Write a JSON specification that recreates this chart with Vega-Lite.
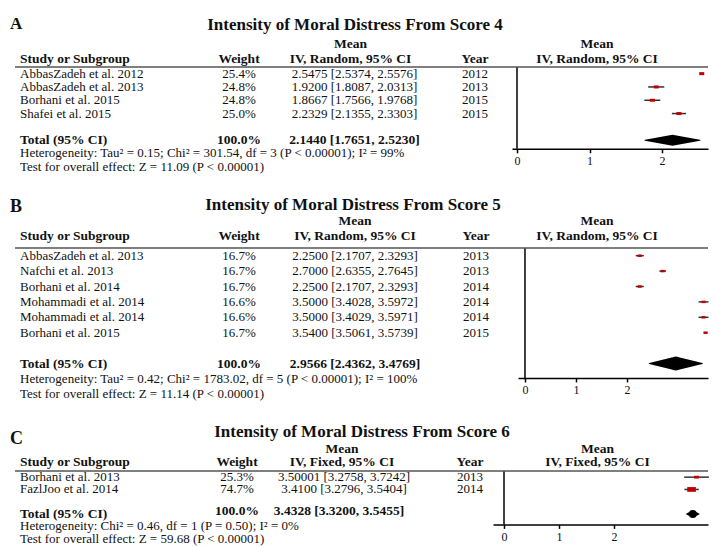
{
"$schema":"https://vega.github.io/schema/vega-lite/v6.json",
"padding":{"left":10,"top":14,"right":0,"bottom":0},
"config":{"view":{"stroke":null},"font":"Liberation Serif","text":{"font":"Liberation Serif","fontSize":13,"color":"#111"}},
"datasets":{
"A":[
{"id":"a1","kind":"study","study":"AbbasZadeh et al. 2012","weight":0.254,"ci":"2.5475 [2.5374, 2.5576]","year":"2012","mean":2.5475,"lo":2.5374,"hi":2.5576},
{"id":"a2","kind":"study","study":"AbbasZadeh et al. 2013","weight":0.248,"ci":"1.9200 [1.8087, 2.0313]","year":"2013","mean":1.92,"lo":1.8087,"hi":2.0313},
{"id":"a3","kind":"study","study":"Borhani et al. 2015","weight":0.248,"ci":"1.8667 [1.7566, 1.9768]","year":"2015","mean":1.8667,"lo":1.7566,"hi":1.9768},
{"id":"a4","kind":"study","study":"Shafei et al. 2015","weight":0.25,"ci":"2.2329 [2.1355, 2.3303]","year":"2015","mean":2.2329,"lo":2.1355,"hi":2.3303},
{"id":"total","kind":"total","study":"Total (95% CI)","weight":1,"ci":"2.1440 [1.7651, 2.5230]","mean":2.144,"lo":1.7651,"hi":2.523},
{"id":"het","kind":"note","study":"Heterogeneity: Tau² = 0.15; Chi² = 301.54, df = 3 (P < 0.00001); I² = 99%"},
{"id":"test","kind":"note","study":"Test for overall effect: Z = 11.09 (P < 0.00001)"}
],
"B":[
{"id":"b1","kind":"study","study":"AbbasZadeh et al. 2013","weight":0.167,"ci":"2.2500 [2.1707, 2.3293]","year":"2013","mean":2.25,"lo":2.1707,"hi":2.3293},
{"id":"b2","kind":"study","study":"Nafchi et al. 2013","weight":0.167,"ci":"2.7000 [2.6355, 2.7645]","year":"2013","mean":2.7,"lo":2.6355,"hi":2.7645},
{"id":"b3","kind":"study","study":"Borhani et al. 2014","weight":0.167,"ci":"2.2500 [2.1707, 2.3293]","year":"2014","mean":2.25,"lo":2.1707,"hi":2.3293},
{"id":"b4","kind":"study","study":"Mohammadi et al. 2014","weight":0.166,"ci":"3.5000 [3.4028, 3.5972]","year":"2014","mean":3.5,"lo":3.4028,"hi":3.5972},
{"id":"b5","kind":"study","study":"Mohammadi et al. 2014","weight":0.166,"ci":"3.5000 [3.4029, 3.5971]","year":"2014","mean":3.5,"lo":3.4029,"hi":3.5971},
{"id":"b6","kind":"study","study":"Borhani et al. 2015","weight":0.167,"ci":"3.5400 [3.5061, 3.5739]","year":"2015","mean":3.54,"lo":3.5061,"hi":3.5739},
{"id":"total","kind":"total","study":"Total (95% CI)","weight":1,"ci":"2.9566 [2.4362, 3.4769]","mean":2.9566,"lo":2.4362,"hi":3.4769},
{"id":"het","kind":"note","study":"Heterogeneity: Tau² = 0.42; Chi² = 1783.02, df = 5 (P < 0.00001); I² = 100%"},
{"id":"test","kind":"note","study":"Test for overall effect: Z = 11.14 (P < 0.00001)"}
],
"C":[
{"id":"c1","kind":"study","study":"Borhani et al. 2013","weight":0.253,"ci":"3.50001 [3.2758, 3.7242]","year":"2013","mean":3.50001,"lo":3.2758,"hi":3.7242},
{"id":"c2","kind":"study","study":"FazlJoo et al. 2014","weight":0.747,"ci":"3.4100 [3.2796, 3.5404]","year":"2014","mean":3.41,"lo":3.2796,"hi":3.5404},
{"id":"total","kind":"total","study":"Total (95% CI)","weight":1,"ci":"3.4328 [3.3200, 3.5455]","mean":3.4328,"lo":3.32,"hi":3.5455},
{"id":"het","kind":"note","study":"Heterogeneity: Chi² = 0.46, df = 1 (P = 0.50); I² = 0%"},
{"id":"test","kind":"note","study":"Test for overall effect: Z = 59.68 (P < 0.00001)"}
]
},
"spacing":21,
"vconcat":[
{"spacing":0,"bounds":"flush","hconcat":[
 {"width":188,"height":{"step":13.3},"data":{"name":"A"},"layer":[
  {"transform":[{"filter":"datum.kind !== 'total'"}],"mark":{"type":"text","align":"left","baseline":"middle"},"encoding":{"x":{"value":5},"y":{"field":"id","type":"nominal","axis":null,"scale":{"type":"band","domain":["a1","a2","a3","a4","gap","total","het","test"],"paddingInner":0,"paddingOuter":0}},"text":{"field":"study"}}},
  {"transform":[{"filter":"datum.kind === 'total'"}],"mark":{"type":"text","align":"left","baseline":"middle","fontWeight":"bold","fontSize":13.5},"encoding":{"x":{"value":5},"y":{"field":"id","type":"nominal","axis":null,"scale":{"type":"band","domain":["a1","a2","a3","a4","gap","total","het","test"],"paddingInner":0,"paddingOuter":0}},"text":{"field":"study"}}},
  {"data":{"values":[{}]},"mark":{"type":"text","text":"Study or Subgroup","align":"left","baseline":"bottom","fontWeight":"bold","fontSize":13.5,"dy":-8},"encoding":{"x":{"value":5},"y":{"datum":"a1","type":"nominal","axis":null,"scale":{"type":"band","domain":["a1","a2","a3","a4","gap","total","het","test"],"paddingInner":0,"paddingOuter":0}}}},
  {"data":{"values":[{}]},"mark":{"type":"text","text":"A","align":"left","baseline":"alphabetic","fontWeight":"bold","fontSize":17,"dy":-45},"encoding":{"x":{"value":-5},"y":{"datum":"a1","type":"nominal","axis":null,"scale":{"type":"band","domain":["a1","a2","a3","a4","gap","total","het","test"],"paddingInner":0,"paddingOuter":0}}}},
  {"data":{"values":[{}]},"mark":{"type":"rule","color":"#555","strokeWidth":1.5},"encoding":{"y":{"datum":"a1","type":"nominal","bandPosition":0,"axis":null,"scale":{"type":"band","domain":["a1","a2","a3","a4","gap","total","het","test"],"paddingInner":0,"paddingOuter":0}}}}
 ]},
 {"width":72,"height":{"step":13.3},"data":{"name":"A"},"layer":[
  {"transform":[{"filter":"datum.kind === 'study'"}],"mark":{"type":"text","align":"center","baseline":"middle"},"encoding":{"y":{"field":"id","type":"nominal","axis":null,"scale":{"type":"band","domain":["a1","a2","a3","a4","gap","total","het","test"],"paddingInner":0,"paddingOuter":0}},"text":{"field":"weight","type":"quantitative","format":".1%"}}},
  {"transform":[{"filter":"datum.kind === 'total'"}],"mark":{"type":"text","align":"center","baseline":"middle","fontWeight":"bold","fontSize":13.5},"encoding":{"y":{"field":"id","type":"nominal","axis":null,"scale":{"type":"band","domain":["a1","a2","a3","a4","gap","total","het","test"],"paddingInner":0,"paddingOuter":0}},"text":{"field":"weight","type":"quantitative","format":".1%"}}},
  {"data":{"values":[{}]},"mark":{"type":"text","text":"Weight","align":"center","baseline":"bottom","fontWeight":"bold","fontSize":13.5,"dy":-8},"encoding":{"y":{"datum":"a1","type":"nominal","axis":null,"scale":{"type":"band","domain":["a1","a2","a3","a4","gap","total","het","test"],"paddingInner":0,"paddingOuter":0}}}},
  {"data":{"values":[{}]},"mark":{"type":"rule","color":"#555","strokeWidth":1.5},"encoding":{"y":{"datum":"a1","type":"nominal","bandPosition":0,"axis":null,"scale":{"type":"band","domain":["a1","a2","a3","a4","gap","total","het","test"],"paddingInner":0,"paddingOuter":0}}}}
 ]},
 {"width":163,"height":{"step":13.3},"data":{"name":"A"},"layer":[
  {"transform":[{"filter":"datum.kind === 'study'"}],"mark":{"type":"text","align":"center","baseline":"middle","dx":-2},"encoding":{"y":{"field":"id","type":"nominal","axis":null,"scale":{"type":"band","domain":["a1","a2","a3","a4","gap","total","het","test"],"paddingInner":0,"paddingOuter":0}},"text":{"field":"ci"}}},
  {"transform":[{"filter":"datum.kind === 'total'"}],"mark":{"type":"text","align":"center","baseline":"middle","dx":-2,"fontWeight":"bold","fontSize":13.5},"encoding":{"y":{"field":"id","type":"nominal","axis":null,"scale":{"type":"band","domain":["a1","a2","a3","a4","gap","total","het","test"],"paddingInner":0,"paddingOuter":0}},"text":{"field":"ci"}}},
  {"data":{"values":[{}]},"mark":{"type":"text","text":"Mean\nIV, Random, 95% CI","lineBreak":"\n","lineHeight":14.5,"align":"center","baseline":"bottom","fontWeight":"bold","fontSize":13.5,"dx":-6,"dy":-22.5},"encoding":{"y":{"datum":"a1","type":"nominal","axis":null,"scale":{"type":"band","domain":["a1","a2","a3","a4","gap","total","het","test"],"paddingInner":0,"paddingOuter":0}}}},
  {"data":{"values":[{}]},"mark":{"type":"text","text":"Intensity of Moral Distress From Score 4","align":"center","baseline":"alphabetic","fontWeight":"bold","fontSize":17,"dx":-1.5,"dy":-44},"encoding":{"y":{"datum":"a1","type":"nominal","axis":null,"scale":{"type":"band","domain":["a1","a2","a3","a4","gap","total","het","test"],"paddingInner":0,"paddingOuter":0}}}},
  {"data":{"values":[{}]},"mark":{"type":"rule","color":"#555","strokeWidth":1.5},"encoding":{"y":{"datum":"a1","type":"nominal","bandPosition":0,"axis":null,"scale":{"type":"band","domain":["a1","a2","a3","a4","gap","total","het","test"],"paddingInner":0,"paddingOuter":0}}}}
 ]},
 {"width":74,"height":{"step":13.3},"data":{"name":"A"},"layer":[
  {"transform":[{"filter":"datum.kind === 'study'"}],"mark":{"type":"text","align":"center","baseline":"middle"},"encoding":{"y":{"field":"id","type":"nominal","axis":null,"scale":{"type":"band","domain":["a1","a2","a3","a4","gap","total","het","test"],"paddingInner":0,"paddingOuter":0}},"text":{"field":"year"}}},
  {"data":{"values":[{}]},"mark":{"type":"text","text":"Year","align":"center","baseline":"bottom","fontWeight":"bold","fontSize":13.5,"dy":-8},"encoding":{"y":{"datum":"a1","type":"nominal","axis":null,"scale":{"type":"band","domain":["a1","a2","a3","a4","gap","total","het","test"],"paddingInner":0,"paddingOuter":0}}}},
  {"data":{"values":[{}]},"mark":{"type":"rule","color":"#555","strokeWidth":1.5},"encoding":{"y":{"datum":"a1","type":"nominal","bandPosition":0,"axis":null,"scale":{"type":"band","domain":["a1","a2","a3","a4","gap","total","het","test"],"paddingInner":0,"paddingOuter":0}}}}
 ]},
 {"width":196,"height":{"step":13.3},"data":{"name":"A"},"layer":[
  {"data":{"values":[{}]},"mark":{"type":"rule","color":"#000","strokeWidth":1.5},"encoding":{"x":{"datum":0,"type":"quantitative","scale":{"domain":[-0.069,2.634],"nice":false,"zero":false},"axis":{"values":[0,1,2],"title":null,"grid":false,"format":"d","labelFlush":false,"domainColor":"#000","domainWidth":1.5,"tickColor":"#000","tickWidth":1.5,"tickSize":4,"labelPadding":3,"labelFontSize":12,"labelFont":"Liberation Serif","labelColor":"#111"}}}},
  {"data":{"values":[{}]},"mark":{"type":"rule","color":"#555","strokeWidth":1.5},"encoding":{"y":{"datum":"a1","type":"nominal","bandPosition":0,"axis":null,"scale":{"type":"band","domain":["a1","a2","a3","a4","gap","total"],"paddingInner":0,"paddingOuter":0.075,"align":0}}}},
  {"transform":[{"filter":"datum.kind === 'study'"}],"mark":{"type":"rule","color":"#333","strokeWidth":1.5},"encoding":{"x":{"field":"lo","type":"quantitative","scale":{"domain":[-0.069,2.634],"nice":false,"zero":false},"axis":{"values":[0,1,2],"title":null,"grid":false,"format":"d","labelFlush":false,"domainColor":"#000","domainWidth":1.5,"tickColor":"#000","tickWidth":1.5,"tickSize":4,"labelPadding":3,"labelFontSize":12,"labelFont":"Liberation Serif","labelColor":"#111"}},"x2":{"field":"hi"},"y":{"field":"id","type":"nominal","axis":null,"scale":{"type":"band","domain":["a1","a2","a3","a4","gap","total"],"paddingInner":0,"paddingOuter":0.075,"align":0}}}},
  {"transform":[{"filter":"datum.kind === 'study'"}],"mark":{"type":"point","filled":true,"opacity":1,"shape":"M-1,-0.6H1V0.6H-1Z","color":"#c00000","strokeWidth":0},"encoding":{"x":{"field":"mean","type":"quantitative","scale":{"domain":[-0.069,2.634],"nice":false,"zero":false},"axis":{"values":[0,1,2],"title":null,"grid":false,"format":"d","labelFlush":false,"domainColor":"#000","domainWidth":1.5,"tickColor":"#000","tickWidth":1.5,"tickSize":4,"labelPadding":3,"labelFontSize":12,"labelFont":"Liberation Serif","labelColor":"#111"}},"y":{"field":"id","type":"nominal","axis":null,"scale":{"type":"band","domain":["a1","a2","a3","a4","gap","total"],"paddingInner":0,"paddingOuter":0.075,"align":0}},"size":{"field":"weight","type":"quantitative","scale":{"domain":[0,0.254],"range":[0,75]},"legend":null}}},
  {"transform":[{"filter":"datum.kind === 'total'"},{"fold":["lo","mean","hi"],"as":["key","val"]}],"mark":{"type":"trail","color":"#000"},"encoding":{"x":{"field":"val","type":"quantitative","scale":{"domain":[-0.069,2.634],"nice":false,"zero":false},"axis":{"values":[0,1,2],"title":null,"grid":false,"format":"d","labelFlush":false,"domainColor":"#000","domainWidth":1.5,"tickColor":"#000","tickWidth":1.5,"tickSize":4,"labelPadding":3,"labelFontSize":12,"labelFont":"Liberation Serif","labelColor":"#111"}},"y":{"field":"id","type":"nominal","axis":null,"scale":{"type":"band","domain":["a1","a2","a3","a4","gap","total"],"paddingInner":0,"paddingOuter":0.075,"align":0}},"size":{"condition":{"test":"datum.key === 'mean'","value":11},"value":0}}},
  {"data":{"values":[{}]},"mark":{"type":"text","text":"Mean\nIV, Random, 95% CI","lineBreak":"\n","lineHeight":14.5,"align":"center","baseline":"bottom","fontWeight":"bold","fontSize":13.5,"dx":-13,"dy":-22.5},"encoding":{"y":{"datum":"a1","type":"nominal","axis":null,"scale":{"type":"band","domain":["a1","a2","a3","a4","gap","total"],"paddingInner":0,"paddingOuter":0.075,"align":0}}}}
 ]}
]},
{"spacing":0,"bounds":"flush","hconcat":[
 {"width":187,"height":{"step":15.4},"data":{"name":"B"},"layer":[
  {"transform":[{"filter":"datum.kind !== 'total'"}],"mark":{"type":"text","align":"left","baseline":"middle"},"encoding":{"x":{"value":5},"y":{"field":"id","type":"nominal","axis":null,"scale":{"type":"band","domain":["b1","b2","b3","b4","b5","b6","gap","total","het","test"],"paddingInner":0,"paddingOuter":0}},"text":{"field":"study"}}},
  {"transform":[{"filter":"datum.kind === 'total'"}],"mark":{"type":"text","align":"left","baseline":"middle","fontWeight":"bold","fontSize":13.5},"encoding":{"x":{"value":5},"y":{"field":"id","type":"nominal","axis":null,"scale":{"type":"band","domain":["b1","b2","b3","b4","b5","b6","gap","total","het","test"],"paddingInner":0,"paddingOuter":0}},"text":{"field":"study"}}},
  {"data":{"values":[{}]},"mark":{"type":"text","text":"Study or Subgroup","align":"left","baseline":"bottom","fontWeight":"bold","fontSize":13.5,"dy":-13},"encoding":{"x":{"value":5},"y":{"datum":"b1","type":"nominal","axis":null,"scale":{"type":"band","domain":["b1","b2","b3","b4","b5","b6","gap","total","het","test"],"paddingInner":0,"paddingOuter":0}}}},
  {"data":{"values":[{}]},"mark":{"type":"text","text":"B","align":"left","baseline":"alphabetic","fontWeight":"bold","fontSize":18,"dy":-44},"encoding":{"x":{"value":-5},"y":{"datum":"b1","type":"nominal","axis":null,"scale":{"type":"band","domain":["b1","b2","b3","b4","b5","b6","gap","total","het","test"],"paddingInner":0,"paddingOuter":0}}}},
  {"data":{"values":[{}]},"mark":{"type":"rule","color":"#555","strokeWidth":1.5},"encoding":{"y":{"datum":"b1","type":"nominal","bandPosition":0,"axis":null,"scale":{"type":"band","domain":["b1","b2","b3","b4","b5","b6","gap","total","het","test"],"paddingInner":0,"paddingOuter":0}}}}
 ]},
 {"width":74,"height":{"step":15.4},"data":{"name":"B"},"layer":[
  {"transform":[{"filter":"datum.kind === 'study'"}],"mark":{"type":"text","align":"center","baseline":"middle"},"encoding":{"y":{"field":"id","type":"nominal","axis":null,"scale":{"type":"band","domain":["b1","b2","b3","b4","b5","b6","gap","total","het","test"],"paddingInner":0,"paddingOuter":0}},"text":{"field":"weight","type":"quantitative","format":".1%"}}},
  {"transform":[{"filter":"datum.kind === 'total'"}],"mark":{"type":"text","align":"center","baseline":"middle","fontWeight":"bold","fontSize":13.5},"encoding":{"y":{"field":"id","type":"nominal","axis":null,"scale":{"type":"band","domain":["b1","b2","b3","b4","b5","b6","gap","total","het","test"],"paddingInner":0,"paddingOuter":0}},"text":{"field":"weight","type":"quantitative","format":".1%"}}},
  {"data":{"values":[{}]},"mark":{"type":"text","text":"Weight","align":"center","baseline":"bottom","fontWeight":"bold","fontSize":13.5,"dy":-13},"encoding":{"y":{"datum":"b1","type":"nominal","axis":null,"scale":{"type":"band","domain":["b1","b2","b3","b4","b5","b6","gap","total","het","test"],"paddingInner":0,"paddingOuter":0}}}},
  {"data":{"values":[{}]},"mark":{"type":"rule","color":"#555","strokeWidth":1.5},"encoding":{"y":{"datum":"b1","type":"nominal","bandPosition":0,"axis":null,"scale":{"type":"band","domain":["b1","b2","b3","b4","b5","b6","gap","total","het","test"],"paddingInner":0,"paddingOuter":0}}}}
 ]},
 {"width":158,"height":{"step":15.4},"data":{"name":"B"},"layer":[
  {"transform":[{"filter":"datum.kind === 'study'"}],"mark":{"type":"text","align":"center","baseline":"middle"},"encoding":{"y":{"field":"id","type":"nominal","axis":null,"scale":{"type":"band","domain":["b1","b2","b3","b4","b5","b6","gap","total","het","test"],"paddingInner":0,"paddingOuter":0}},"text":{"field":"ci"}}},
  {"transform":[{"filter":"datum.kind === 'total'"}],"mark":{"type":"text","align":"center","baseline":"middle","fontWeight":"bold","fontSize":13.5},"encoding":{"y":{"field":"id","type":"nominal","axis":null,"scale":{"type":"band","domain":["b1","b2","b3","b4","b5","b6","gap","total","het","test"],"paddingInner":0,"paddingOuter":0}},"text":{"field":"ci"}}},
  {"data":{"values":[{}]},"mark":{"type":"text","text":"Mean\nIV, Random, 95% CI","lineBreak":"\n","lineHeight":14.5,"align":"center","baseline":"bottom","fontWeight":"bold","fontSize":13.5,"dy":-27.5},"encoding":{"y":{"datum":"b1","type":"nominal","axis":null,"scale":{"type":"band","domain":["b1","b2","b3","b4","b5","b6","gap","total","het","test"],"paddingInner":0,"paddingOuter":0}}}},
  {"data":{"values":[{}]},"mark":{"type":"text","text":"Intensity of Moral Distress From Score 5","align":"center","baseline":"alphabetic","fontWeight":"bold","fontSize":17,"dx":-2,"dy":-46},"encoding":{"y":{"datum":"b1","type":"nominal","axis":null,"scale":{"type":"band","domain":["b1","b2","b3","b4","b5","b6","gap","total","het","test"],"paddingInner":0,"paddingOuter":0}}}},
  {"data":{"values":[{}]},"mark":{"type":"rule","color":"#555","strokeWidth":1.5},"encoding":{"y":{"datum":"b1","type":"nominal","bandPosition":0,"axis":null,"scale":{"type":"band","domain":["b1","b2","b3","b4","b5","b6","gap","total","het","test"],"paddingInner":0,"paddingOuter":0}}}}
 ]},
 {"width":84,"height":{"step":15.4},"data":{"name":"B"},"layer":[
  {"transform":[{"filter":"datum.kind === 'study'"}],"mark":{"type":"text","align":"center","baseline":"middle"},"encoding":{"y":{"field":"id","type":"nominal","axis":null,"scale":{"type":"band","domain":["b1","b2","b3","b4","b5","b6","gap","total","het","test"],"paddingInner":0,"paddingOuter":0}},"text":{"field":"year"}}},
  {"data":{"values":[{}]},"mark":{"type":"text","text":"Year","align":"center","baseline":"bottom","fontWeight":"bold","fontSize":13.5,"dy":-13},"encoding":{"y":{"datum":"b1","type":"nominal","axis":null,"scale":{"type":"band","domain":["b1","b2","b3","b4","b5","b6","gap","total","het","test"],"paddingInner":0,"paddingOuter":0}}}},
  {"data":{"values":[{}]},"mark":{"type":"rule","color":"#555","strokeWidth":1.5},"encoding":{"y":{"datum":"b1","type":"nominal","bandPosition":0,"axis":null,"scale":{"type":"band","domain":["b1","b2","b3","b4","b5","b6","gap","total","het","test"],"paddingInner":0,"paddingOuter":0}}}}
 ]},
 {"width":190,"height":{"step":15.4},"data":{"name":"B"},"layer":[
  {"data":{"values":[{}]},"mark":{"type":"rule","color":"#000","strokeWidth":1.5},"encoding":{"x":{"datum":0,"type":"quantitative","scale":{"domain":[-0.137,3.588],"nice":false,"zero":false},"axis":{"values":[0,1,2],"title":null,"grid":false,"format":"d","labelFlush":false,"domainColor":"#000","domainWidth":1.5,"tickColor":"#000","tickWidth":1.5,"tickSize":4,"labelPadding":3,"labelFontSize":12,"labelFont":"Liberation Serif","labelColor":"#111"}}}},
  {"data":{"values":[{}]},"mark":{"type":"rule","color":"#555","strokeWidth":1.5},"encoding":{"y":{"datum":"b1","type":"nominal","bandPosition":0,"axis":null,"scale":{"type":"band","domain":["b1","b2","b3","b4","b5","b6","gap","total"],"paddingInner":0,"paddingOuter":0.22,"align":0}}}},
  {"transform":[{"filter":"datum.kind === 'study'"}],"mark":{"type":"rule","color":"#333","strokeWidth":1.5},"encoding":{"x":{"field":"lo","type":"quantitative","scale":{"domain":[-0.137,3.588],"nice":false,"zero":false},"axis":{"values":[0,1,2],"title":null,"grid":false,"format":"d","labelFlush":false,"domainColor":"#000","domainWidth":1.5,"tickColor":"#000","tickWidth":1.5,"tickSize":4,"labelPadding":3,"labelFontSize":12,"labelFont":"Liberation Serif","labelColor":"#111"}},"x2":{"field":"hi"},"y":{"field":"id","type":"nominal","axis":null,"scale":{"type":"band","domain":["b1","b2","b3","b4","b5","b6","gap","total"],"paddingInner":0,"paddingOuter":0.22,"align":0}}}},
  {"transform":[{"filter":"datum.kind === 'study'"}],"mark":{"type":"point","filled":true,"opacity":1,"shape":"M-1,-0.6H1V0.6H-1Z","color":"#c00000","strokeWidth":0},"encoding":{"x":{"field":"mean","type":"quantitative","scale":{"domain":[-0.137,3.588],"nice":false,"zero":false},"axis":{"values":[0,1,2],"title":null,"grid":false,"format":"d","labelFlush":false,"domainColor":"#000","domainWidth":1.5,"tickColor":"#000","tickWidth":1.5,"tickSize":4,"labelPadding":3,"labelFontSize":12,"labelFont":"Liberation Serif","labelColor":"#111"}},"y":{"field":"id","type":"nominal","axis":null,"scale":{"type":"band","domain":["b1","b2","b3","b4","b5","b6","gap","total"],"paddingInner":0,"paddingOuter":0.22,"align":0}},"size":{"field":"weight","type":"quantitative","scale":{"domain":[0,0.167],"range":[0,58]},"legend":null}}},
  {"transform":[{"filter":"datum.kind === 'total'"},{"fold":["lo","mean","hi"],"as":["key","val"]}],"mark":{"type":"trail","color":"#000"},"encoding":{"x":{"field":"val","type":"quantitative","scale":{"domain":[-0.137,3.588],"nice":false,"zero":false},"axis":{"values":[0,1,2],"title":null,"grid":false,"format":"d","labelFlush":false,"domainColor":"#000","domainWidth":1.5,"tickColor":"#000","tickWidth":1.5,"tickSize":4,"labelPadding":3,"labelFontSize":12,"labelFont":"Liberation Serif","labelColor":"#111"}},"y":{"field":"id","type":"nominal","axis":null,"scale":{"type":"band","domain":["b1","b2","b3","b4","b5","b6","gap","total"],"paddingInner":0,"paddingOuter":0.22,"align":0}},"size":{"condition":{"test":"datum.key === 'mean'","value":14},"value":0}}},
  {"data":{"values":[{}]},"mark":{"type":"text","text":"Mean\nIV, Random, 95% CI","lineBreak":"\n","lineHeight":14.5,"align":"center","baseline":"bottom","fontWeight":"bold","fontSize":13.5,"dx":-16,"dy":-27.5},"encoding":{"y":{"datum":"b1","type":"nominal","axis":null,"scale":{"type":"band","domain":["b1","b2","b3","b4","b5","b6","gap","total"],"paddingInner":0,"paddingOuter":0.22,"align":0}}}}
 ]}
]},
{"spacing":0,"bounds":"flush","hconcat":[
 {"width":188,"height":{"step":12.3},"data":{"name":"C"},"layer":[
  {"transform":[{"filter":"datum.kind !== 'total'"}],"mark":{"type":"text","align":"left","baseline":"middle"},"encoding":{"x":{"value":5},"y":{"field":"id","type":"nominal","axis":null,"scale":{"type":"band","domain":["c1","c2","gap","total","het","test"],"paddingInner":0,"paddingOuter":0}},"text":{"field":"study"}}},
  {"transform":[{"filter":"datum.kind === 'total'"}],"mark":{"type":"text","align":"left","baseline":"middle","fontWeight":"bold","fontSize":13.5},"encoding":{"x":{"value":5},"y":{"field":"id","type":"nominal","axis":null,"scale":{"type":"band","domain":["c1","c2","gap","total","het","test"],"paddingInner":0,"paddingOuter":0}},"text":{"field":"study"}}},
  {"data":{"values":[{}]},"mark":{"type":"text","text":"Study or Subgroup","align":"left","baseline":"bottom","fontWeight":"bold","fontSize":13.5,"dy":-8},"encoding":{"x":{"value":5},"y":{"datum":"c1","type":"nominal","axis":null,"scale":{"type":"band","domain":["c1","c2","gap","total","het","test"],"paddingInner":0,"paddingOuter":0}}}},
  {"data":{"values":[{}]},"mark":{"type":"text","text":"C","align":"left","baseline":"alphabetic","fontWeight":"bold","fontSize":18,"dy":-33},"encoding":{"x":{"value":-5},"y":{"datum":"c1","type":"nominal","axis":null,"scale":{"type":"band","domain":["c1","c2","gap","total","het","test"],"paddingInner":0,"paddingOuter":0}}}},
  {"data":{"values":[{}]},"mark":{"type":"rule","color":"#555","strokeWidth":1.5},"encoding":{"y":{"datum":"c1","type":"nominal","bandPosition":0,"axis":null,"scale":{"type":"band","domain":["c1","c2","gap","total","het","test"],"paddingInner":0,"paddingOuter":0}}}}
 ]},
 {"width":68,"height":{"step":12.3},"data":{"name":"C"},"layer":[
  {"transform":[{"filter":"datum.kind === 'study'"}],"mark":{"type":"text","align":"center","baseline":"middle"},"encoding":{"y":{"field":"id","type":"nominal","axis":null,"scale":{"type":"band","domain":["c1","c2","gap","total","het","test"],"paddingInner":0,"paddingOuter":0}},"text":{"field":"weight","type":"quantitative","format":".1%"}}},
  {"transform":[{"filter":"datum.kind === 'total'"}],"mark":{"type":"text","align":"center","baseline":"middle","fontWeight":"bold","fontSize":13.5,"dy":-3},"encoding":{"y":{"field":"id","type":"nominal","axis":null,"scale":{"type":"band","domain":["c1","c2","gap","total","het","test"],"paddingInner":0,"paddingOuter":0}},"text":{"field":"weight","type":"quantitative","format":".1%"}}},
  {"data":{"values":[{}]},"mark":{"type":"text","text":"Weight","align":"center","baseline":"bottom","fontWeight":"bold","fontSize":13.5,"dy":-8},"encoding":{"y":{"datum":"c1","type":"nominal","axis":null,"scale":{"type":"band","domain":["c1","c2","gap","total","het","test"],"paddingInner":0,"paddingOuter":0}}}},
  {"data":{"values":[{}]},"mark":{"type":"rule","color":"#555","strokeWidth":1.5},"encoding":{"y":{"datum":"c1","type":"nominal","bandPosition":0,"axis":null,"scale":{"type":"band","domain":["c1","c2","gap","total","het","test"],"paddingInner":0,"paddingOuter":0}}}}
 ]},
 {"width":176,"height":{"step":12.3},"data":{"name":"C"},"layer":[
  {"transform":[{"filter":"datum.kind === 'study'"}],"mark":{"type":"text","align":"center","baseline":"middle","dx":-15},"encoding":{"y":{"field":"id","type":"nominal","axis":null,"scale":{"type":"band","domain":["c1","c2","gap","total","het","test"],"paddingInner":0,"paddingOuter":0}},"text":{"field":"ci"}}},
  {"transform":[{"filter":"datum.kind === 'total'"}],"mark":{"type":"text","align":"center","baseline":"middle","dx":-20,"dy":-3,"fontWeight":"bold","fontSize":13.5},"encoding":{"y":{"field":"id","type":"nominal","axis":null,"scale":{"type":"band","domain":["c1","c2","gap","total","het","test"],"paddingInner":0,"paddingOuter":0}},"text":{"field":"ci"}}},
  {"data":{"values":[{}]},"mark":{"type":"text","text":"Mean\nIV, Fixed, 95% CI","lineBreak":"\n","lineHeight":13.5,"align":"center","baseline":"bottom","fontWeight":"bold","fontSize":13.5,"dx":-17,"dy":-21.5},"encoding":{"y":{"datum":"c1","type":"nominal","axis":null,"scale":{"type":"band","domain":["c1","c2","gap","total","het","test"],"paddingInner":0,"paddingOuter":0}}}},
  {"data":{"values":[{}]},"mark":{"type":"text","text":"Intensity of Moral Distress From Score 6","align":"center","baseline":"alphabetic","fontWeight":"bold","fontSize":17,"dx":3,"dy":-40},"encoding":{"y":{"datum":"c1","type":"nominal","axis":null,"scale":{"type":"band","domain":["c1","c2","gap","total","het","test"],"paddingInner":0,"paddingOuter":0}}}},
  {"data":{"values":[{}]},"mark":{"type":"rule","color":"#555","strokeWidth":1.5},"encoding":{"y":{"datum":"c1","type":"nominal","bandPosition":0,"axis":null,"scale":{"type":"band","domain":["c1","c2","gap","total","het","test"],"paddingInner":0,"paddingOuter":0}}}}
 ]},
 {"width":46,"height":{"step":12.3},"data":{"name":"C"},"layer":[
  {"transform":[{"filter":"datum.kind === 'study'"}],"mark":{"type":"text","align":"center","baseline":"middle"},"encoding":{"y":{"field":"id","type":"nominal","axis":null,"scale":{"type":"band","domain":["c1","c2","gap","total","het","test"],"paddingInner":0,"paddingOuter":0}},"text":{"field":"year"}}},
  {"data":{"values":[{}]},"mark":{"type":"text","text":"Year","align":"center","baseline":"bottom","fontWeight":"bold","fontSize":13.5,"dy":-8},"encoding":{"y":{"datum":"c1","type":"nominal","axis":null,"scale":{"type":"band","domain":["c1","c2","gap","total","het","test"],"paddingInner":0,"paddingOuter":0}}}},
  {"data":{"values":[{}]},"mark":{"type":"rule","color":"#555","strokeWidth":1.5},"encoding":{"y":{"datum":"c1","type":"nominal","bandPosition":0,"axis":null,"scale":{"type":"band","domain":["c1","c2","gap","total","het","test"],"paddingInner":0,"paddingOuter":0}}}}
 ]},
 {"width":215,"height":{"step":12.3},"data":{"name":"C"},"layer":[
  {"data":{"values":[{}]},"mark":{"type":"rule","color":"#000","strokeWidth":1.5},"encoding":{"x":{"datum":0,"type":"quantitative","scale":{"domain":[-0.2,3.709],"nice":false,"zero":false},"axis":{"values":[0,1,2],"title":null,"grid":false,"format":"d","labelFlush":false,"domainColor":"#000","domainWidth":1.5,"tickColor":"#000","tickWidth":1.5,"tickSize":4,"labelPadding":3,"labelFontSize":12,"labelFont":"Liberation Serif","labelColor":"#111"}}}},
  {"data":{"values":[{}]},"mark":{"type":"rule","color":"#555","strokeWidth":1.5},"encoding":{"y":{"datum":"c1","type":"nominal","bandPosition":0,"axis":null,"scale":{"type":"band","domain":["c1","c2","gap","total"],"paddingInner":0,"paddingOuter":0.17,"align":0}}}},
  {"transform":[{"filter":"datum.kind === 'study'"}],"mark":{"type":"rule","color":"#333","strokeWidth":1.5},"encoding":{"x":{"field":"lo","type":"quantitative","scale":{"domain":[-0.2,3.709],"nice":false,"zero":false},"axis":{"values":[0,1,2],"title":null,"grid":false,"format":"d","labelFlush":false,"domainColor":"#000","domainWidth":1.5,"tickColor":"#000","tickWidth":1.5,"tickSize":4,"labelPadding":3,"labelFontSize":12,"labelFont":"Liberation Serif","labelColor":"#111"}},"x2":{"field":"hi"},"y":{"field":"id","type":"nominal","axis":null,"scale":{"type":"band","domain":["c1","c2","gap","total"],"paddingInner":0,"paddingOuter":0.17,"align":0}}}},
  {"transform":[{"filter":"datum.kind === 'study'"}],"mark":{"type":"point","filled":true,"opacity":1,"shape":"M-1,-0.55H1V0.55H-1Z","color":"#c00000","strokeWidth":0},"encoding":{"x":{"field":"mean","type":"quantitative","scale":{"domain":[-0.2,3.709],"nice":false,"zero":false},"axis":{"values":[0,1,2],"title":null,"grid":false,"format":"d","labelFlush":false,"domainColor":"#000","domainWidth":1.5,"tickColor":"#000","tickWidth":1.5,"tickSize":4,"labelPadding":3,"labelFontSize":12,"labelFont":"Liberation Serif","labelColor":"#111"}},"y":{"field":"id","type":"nominal","axis":null,"scale":{"type":"band","domain":["c1","c2","gap","total"],"paddingInner":0,"paddingOuter":0.17,"align":0}},"size":{"field":"weight","type":"quantitative","scale":{"domain":[0,0.747],"range":[0,390]},"legend":null}}},
  {"transform":[{"filter":"datum.kind === 'total'"},{"fold":["lo","mean","hi"],"as":["key","val"]}],"mark":{"type":"trail","color":"#000"},"encoding":{"x":{"field":"val","type":"quantitative","scale":{"domain":[-0.2,3.709],"nice":false,"zero":false},"axis":{"values":[0,1,2],"title":null,"grid":false,"format":"d","labelFlush":false,"domainColor":"#000","domainWidth":1.5,"tickColor":"#000","tickWidth":1.5,"tickSize":4,"labelPadding":3,"labelFontSize":12,"labelFont":"Liberation Serif","labelColor":"#111"}},"y":{"field":"id","type":"nominal","axis":null,"scale":{"type":"band","domain":["c1","c2","gap","total"],"paddingInner":0,"paddingOuter":0.17,"align":0}},"size":{"condition":{"test":"datum.key === 'mean'","value":8},"value":0}}},
  {"data":{"values":[{}]},"mark":{"type":"text","text":"Mean\nIV, Fixed, 95% CI","lineBreak":"\n","lineHeight":13.5,"align":"center","baseline":"bottom","fontWeight":"bold","fontSize":13.5,"dx":-3,"dy":-21.5},"encoding":{"y":{"datum":"c1","type":"nominal","axis":null,"scale":{"type":"band","domain":["c1","c2","gap","total"],"paddingInner":0,"paddingOuter":0.17,"align":0}}}}
 ]}
]}
]
}
